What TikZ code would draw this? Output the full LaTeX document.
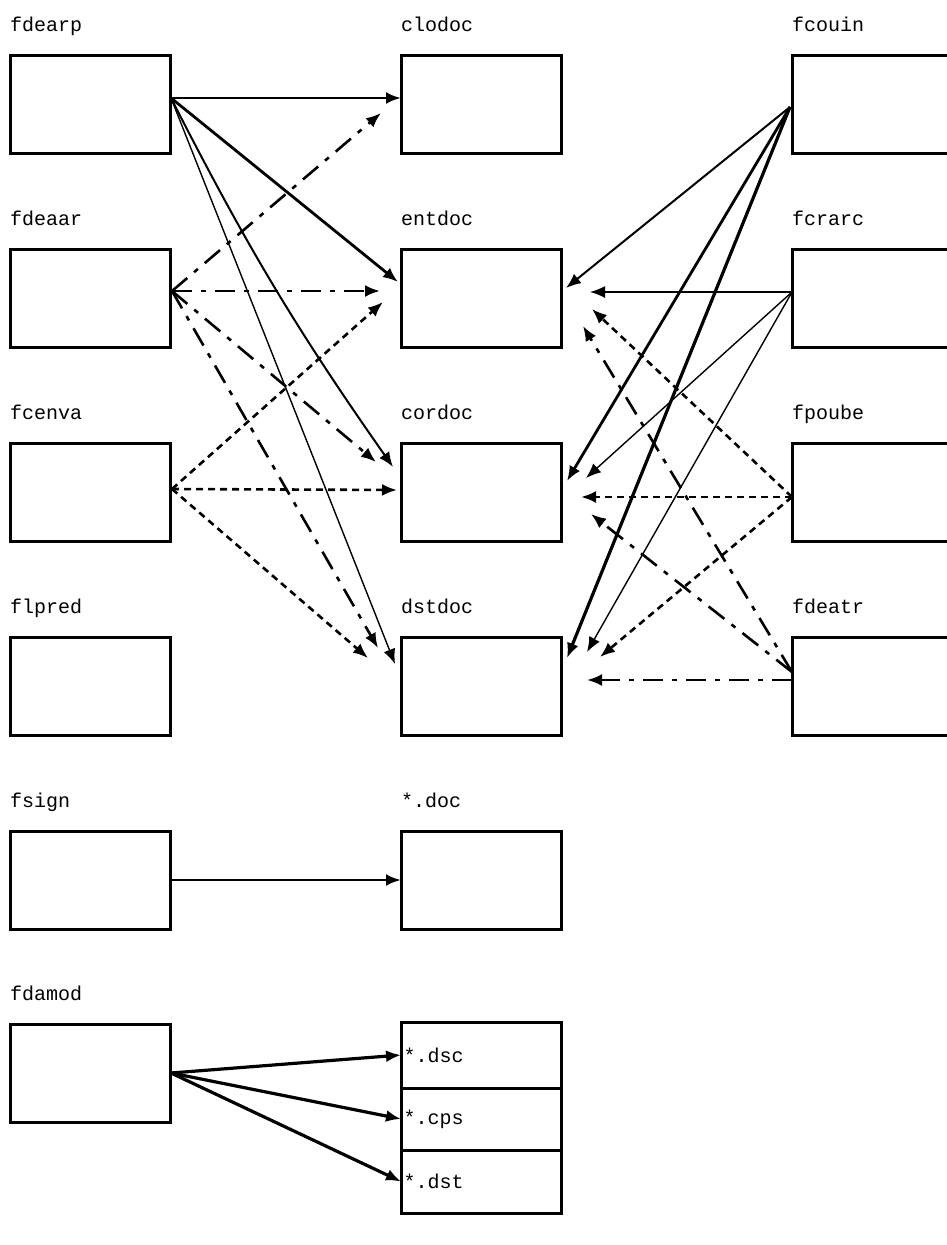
\documentclass[tikz,border=0pt]{standalone}
\usepackage{fontspec}
\newfontfamily\cour{Liberation Mono}
\usetikzlibrary{arrows.meta,calc}
\begin{document}
\begin{tikzpicture}[x=1pt,y=-1pt,
  box/.style={draw,line width=3pt,minimum width=160pt,minimum height=98pt,inner sep=0pt,outer sep=0pt,anchor=north west},
  cell/.style={draw,line width=3pt,anchor=north west,text width=155pt,inner xsep=2.5pt,inner ysep=0pt,outer sep=0pt,align=left,font=\cour\fontsize{20}{24}\selectfont},
  lab/.style={font=\cour\fontsize{20}{24}\selectfont,anchor=base west,inner sep=0pt},
  tip/.style={-{Latex[length=15pt,width=12pt]}},
  solidA/.style={tip,line width=2.8pt},
  solidM/.style={tip,line width=2pt},
  solidB/.style={tip,line width=1.4pt},
  dashdot/.style={tip,line width=2.6pt,dash pattern=on 20pt off 9pt on 5pt off 9pt},
  sdash/.style={tip,line width=2.6pt,dash pattern=on 7pt off 5pt}]
\useasboundingbox (0,0) rectangle (947,1245);
\clip (0,0) rectangle (947,1245);
% left column
\node[box] (fdearp) at (10,55) {};
\node[box] (fdeaar) at (10,249) {};
\node[box] (fcenva) at (10,443) {};
\node[box] (flpred) at (10,637) {};
\node[box] (fsign) at (10,831) {};
\node[box] (fdamod) at (10,1024) {};
\node[lab] (lfdearp) at (10,31) {fdearp};
\node[lab] (lfdeaar) at (10,225) {fdeaar};
\node[lab] (lfcenva) at (10,419) {fcenva};
\node[lab] (lflpred) at (10,613) {flpred};
\node[lab] (lfsign) at (10,807) {fsign};
\node[lab] (lfdamod) at (10,1000) {fdamod};
% middle column
\node[box] (clodoc) at (401,55) {};
\node[box] (entdoc) at (401,249) {};
\node[box] (cordoc) at (401,443) {};
\node[box] (dstdoc) at (401,637) {};
\node[box] (doc) at (401,831) {};
\node[lab] (lclodoc) at (401,31) {clodoc};
\node[lab] (lentdoc) at (401,225) {entdoc};
\node[lab] (lcordoc) at (401,419) {cordoc};
\node[lab] (ldstdoc) at (401,613) {dstdoc};
\node[lab] (ldoc) at (401,807) {*.doc};
\node[cell,minimum height=66pt] (dsc) at (401,1022) {*.dsc};
\node[cell,minimum height=62pt] (cps) at (dsc.south west) {*.cps};
\node[cell,minimum height=63pt] (dst) at (cps.south west) {*.dst};
% right column
\node[box] (fcouin) at (792,55) {};
\node[box] (fcrarc) at (792,249) {};
\node[box] (fpoube) at (792,443) {};
\node[box] (fdeatr) at (792,637) {};
\node[lab] (lfcouin) at (792,31) {fcouin};
\node[lab] (lfcrarc) at (792,225) {fcrarc};
\node[lab] (lfpoube) at (792,419) {fpoube};
\node[lab] (lfdeatr) at (792,613) {fdeatr};
% source points
\coordinate (A) at ($(fdearp.north east)+(1,43)$);
\coordinate (B) at ($(fdeaar.north east)+(2,42)$);
\coordinate (C) at ($(fcenva.north east)+(2,46)$);
\coordinate (D) at ($(fcouin.north west)+(-2,52)$);
\coordinate (E) at ($(fcrarc.north west)+(0,43)$);
\coordinate (F) at ($(fpoube.north west)+(0,54)$);
\coordinate (G) at ($(fdeatr.north west)+(0,35)$);
\coordinate (G2) at ($(fdeatr.north west)+(0,43)$);
% fdearp
\draw[solidA] (A) -- ($(clodoc.north west)+(0,43)$);
\draw[solidA] (A) -- ($(entdoc.north west)+(-3,33)$);
\draw[solidM] (A) to[bend right=4] ($(cordoc.north west)+(-8,24)$);
\draw[solidB] (A) -- ($(dstdoc.north west)+(-6,27)$);
% fdeaar
\draw[dashdot] (B) -- ($(clodoc.north west)+(-20,58)$);
\draw[dashdot] (B) -- ($(entdoc.north west)+(-21,42)$);
\draw[dashdot] (B) -- ($(cordoc.north west)+(-25,19)$);
\draw[dashdot] (B) -- ($(dstdoc.north west)+(-23,11)$);
% fcenva
\draw[sdash] (C) -- ($(entdoc.north west)+(-18,53)$);
\draw[sdash] (C) -- ($(cordoc.north west)+(-4,47)$);
\draw[sdash] (C) -- ($(dstdoc.north west)+(-33,21)$);
% fcouin
\draw[solidM] (D) -- ($(entdoc.north east)+(5,39)$);
\draw[solidA] (D) -- ($(cordoc.north east)+(6,38)$);
\draw[solidA,line width=3.2pt] (D) -- ($(dstdoc.north east)+(6,21)$);
% fcrarc
\draw[solidB] (E) -- ($(entdoc.north east)+(29,43)$);
\draw[solidB] (E) -- ($(cordoc.north east)+(25,35)$);
\draw[solidB] (E) -- ($(dstdoc.north east)+(26,15)$);
% fpoube
\draw[sdash] (F) -- ($(entdoc.north east)+(31,60)$);
\draw[sdash] (F) -- ($(cordoc.north east)+(20,54)$);
\draw[sdash] (F) -- ($(dstdoc.north east)+(39,20)$);
% fdeatr
\draw[dashdot] (G) -- ($(entdoc.north east)+(22,77)$);
\draw[dashdot] (G) -- ($(cordoc.north east)+(30,71)$);
\draw[dashdot] (G2) -- ($(dstdoc.north east)+(26,43)$);
% bottom
\draw[solidA] ($(fsign.north east)+(1,49)$) -- ($(doc.north west)+(0,49)$);
\coordinate (H) at ($(fdamod.north east)+(1,49)$);
\draw[solidA,line width=3.2pt] (H) -- (dsc.west);
\draw[solidA,line width=3.2pt] (H) -- (cps.west);
\draw[solidA,line width=3.2pt] (H) -- (dst.west);
\end{tikzpicture}
\end{document}
